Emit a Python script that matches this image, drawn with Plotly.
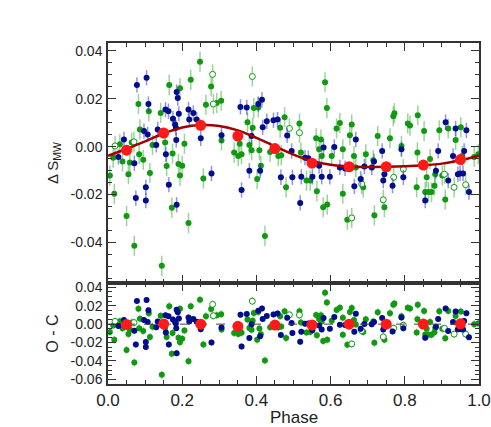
import numpy as np
import plotly.graph_objects as go

# Filled green points (phase, delta S)
green_phase = [0.005, 0.014, 0.017, 0.032, 0.039, 0.050, 0.055, 0.059, 0.064, 0.071,
               0.082, 0.084, 0.086, 0.095, 0.110, 0.113, 0.120, 0.142, 0.145, 0.154,
               0.158, 0.165, 0.172, 0.174, 0.190, 0.194, 0.194, 0.200, 0.206, 0.217,
               0.223, 0.248, 0.257, 0.264, 0.278, 0.293, 0.305, 0.306, 0.340, 0.351,
               0.355, 0.360, 0.376, 0.381, 0.387, 0.390, 0.393, 0.402, 0.405, 0.408,
               0.412, 0.423, 0.437, 0.459, 0.464, 0.467, 0.476, 0.480, 0.516, 0.520,
               0.535, 0.545, 0.561, 0.563, 0.569, 0.574, 0.576, 0.580, 0.585, 0.590,
               0.591, 0.603, 0.616, 0.625, 0.633, 0.633, 0.645, 0.652, 0.657, 0.663,
               0.668, 0.688, 0.695, 0.715, 0.718, 0.727, 0.745, 0.760, 0.769, 0.772,
               0.791, 0.808, 0.814, 0.832, 0.834, 0.835, 0.852, 0.855, 0.859, 0.864,
               0.868, 0.872, 0.880, 0.882, 0.893, 0.901, 0.909, 0.917, 0.937, 0.951,
               0.955, 0.987, 0.998]
green_val = [-0.0121, -0.0046, -0.0197, 0.0010, -0.0062, -0.0290, -0.0115, -0.0066, 0.0017, -0.0414,
             0.0178, -0.0032, 0.0072, -0.0055, 0.0148, -0.0110, 0.0007, 0.0141, -0.0498, 0.0017,
             -0.0081, 0.0258, -0.0255, -0.0029, -0.0073, -0.0121, 0.0244, -0.0080, 0.0012, -0.0319,
             0.0279, 0.0355, -0.0133, 0.0175, 0.0251, 0.0182, 0.0192, 0.0026, -0.0025, -0.0039,
             0.0012, -0.0032, 0.0102, 0.0007, -0.0015, 0.0079, 0.0161, -0.0135, 0.0164, -0.0015,
             -0.0080, -0.0373, -0.0022, -0.0039, 0.0079, -0.0036, 0.0123, -0.0170, 0.0097, -0.0025,
             -0.0142, -0.0142, 0.0035, -0.0186, -0.0011, 0.0030, -0.0039, -0.0253, 0.0269, 0.0161,
             -0.0242, -0.0039, 0.0076, 0.0099, -0.0011, -0.0197, -0.0305, 0.0048, 0.0092, -0.0039,
             -0.0087, -0.0170, -0.0032, -0.0057, -0.0287, 0.0044, -0.0253, 0.0035, 0.0127, 0.0140,
             0.0003, 0.0097, 0.0088, -0.0170, -0.0025, 0.0131, 0.0065, -0.0190, -0.0128, -0.0190,
             -0.0052, -0.0190, -0.0163, -0.0115, 0.0068, -0.0121, -0.0221, 0.0076, 0.0028, 0.0081,
             -0.0039, -0.0043, -0.0032]

# Filled blue points
blue_phase = [0.028, 0.043, 0.071, 0.075, 0.078, 0.097, 0.102, 0.102, 0.104, 0.107,
              0.109, 0.130, 0.134, 0.155, 0.156, 0.163, 0.164, 0.175, 0.181, 0.183,
              0.184, 0.185, 0.185, 0.188, 0.191, 0.217, 0.219, 0.230, 0.239, 0.250,
              0.279, 0.306, 0.357, 0.360, 0.374, 0.381, 0.387, 0.405, 0.410, 0.415,
              0.417, 0.428, 0.446, 0.457, 0.466, 0.483, 0.495, 0.497, 0.518, 0.521,
              0.531, 0.540, 0.551, 0.569, 0.576, 0.581, 0.598, 0.610, 0.625, 0.639,
              0.664, 0.668, 0.681, 0.691, 0.711, 0.717, 0.739, 0.742, 0.745, 0.767,
              0.791, 0.796, 0.855, 0.884, 0.890, 0.910, 0.917, 0.930, 0.937, 0.943,
              0.949, 0.957, 0.960, 0.966, 0.973]
blue_val = [-0.0043, 0.0030, -0.0069, -0.0215, 0.0258, 0.0065, -0.0170, -0.0225, 0.0288, 0.0051,
            0.0178, 0.0007, 0.0072, 0.0155, -0.0032, 0.0148, -0.0159, 0.0117, 0.0092, 0.0079,
            0.0028, 0.0228, -0.0243, 0.0203, 0.0137, 0.0155, 0.0113, 0.0141, 0.0113, 0.0035,
            -0.0112, 0.0048, 0.0166, -0.0181, 0.0164, -0.0101, 0.0044, 0.0178, -0.0101, 0.0196,
            0.0081, 0.0106, 0.0110, 0.0113, -0.0128, 0.0047, -0.0018, -0.0128, -0.0235, -0.0126,
            -0.0046, -0.0048, -0.0126, -0.0080, -0.0126, -0.0004, -0.0126, -0.0001, -0.0087, -0.0091,
            -0.0166, 0.0030, -0.0135, -0.0083, -0.0087, -0.0062, -0.0018, -0.0142, -0.0115, -0.0163,
            -0.0011, -0.0128, -0.0225, -0.0101, -0.0018, 0.0102, -0.0142, -0.0039, 0.0076, -0.0115,
            -0.0112, -0.0112, -0.0018, 0.0068, -0.0190]

# Open green circles
open_phase = [0.019, 0.070, 0.282, 0.284, 0.389, 0.489, 0.516, 0.657, 0.684, 0.742,
              0.770, 0.796, 0.907, 0.933, 0.964]
open_val = [0.0003, 0.0020, 0.0302, 0.0178, 0.0293, 0.0076, 0.0058, -0.0298, -0.0156, -0.0222,
            -0.0128, -0.0094, -0.0115, -0.0170, -0.0159]

# Model curve
model_phase = [0.00, 0.05, 0.10, 0.15, 0.20, 0.25, 0.30, 0.35, 0.40, 0.45, 0.50,
               0.55, 0.60, 0.65, 0.70, 0.75, 0.80, 0.85, 0.90, 0.95, 1.00]
model_val = [-0.0038, -0.0010, 0.0022, 0.0055, 0.0080, 0.0090, 0.0086, 0.0068, 0.0037, 0.0002, -0.0033,
             -0.0060, -0.0076, -0.0083, -0.0085, -0.0084, -0.0082, -0.0078, -0.0071, -0.0057, -0.0038]

# Binned means
bin_phase = [0.05, 0.15, 0.25, 0.35, 0.45, 0.55, 0.65, 0.75, 0.85, 0.95]
bin_val = [-0.0015, 0.0057, 0.0089, 0.0044, -0.0008, -0.0069, -0.0084, -0.0084, -0.0077, -0.0054]
bin_err = [0.0022, 0.0022, 0.0024, 0.0020, 0.0018, 0.0018, 0.0018, 0.0018, 0.0020, 0.0020]

green_err = 0.0042
blue_err = 0.0032


# O - C: observed minus the model curve
def resid(ph, val):
    return np.array(val) - np.interp(ph, model_phase, model_val)


GREEN = '#119911'
BLUE = '#000e8c'
GREEN_BAR = 'rgba(30,160,30,0.45)'
BLUE_BAR = 'rgba(40,40,200,0.5)'
RED = '#ff1a1a'
FONT = 'Liberation Sans, Arial, sans-serif'

fig = go.Figure()

for xa, ya, is_top in [('x', 'y', True), ('x2', 'y2', False)]:
    gy = green_val if is_top else resid(green_phase, green_val)
    by = blue_val if is_top else resid(blue_phase, blue_val)
    oy = open_val if is_top else resid(open_phase, open_val)
    ry = bin_val if is_top else resid(bin_phase, bin_val)

    fig.add_trace(go.Scatter(
        x=green_phase, y=gy, mode='markers', xaxis=xa, yaxis=ya,
        marker=dict(color=GREEN, size=6),
        error_y=dict(type='constant', value=green_err, color=GREEN_BAR, thickness=1.5, width=0)))
    fig.add_trace(go.Scatter(
        x=open_phase, y=oy, mode='markers', xaxis=xa, yaxis=ya,
        marker=dict(color='white', size=6, line=dict(color=GREEN, width=1)),
        error_y=dict(type='constant', value=green_err, color=GREEN_BAR, thickness=1.5, width=0)))
    fig.add_trace(go.Scatter(
        x=blue_phase, y=by, mode='markers', xaxis=xa, yaxis=ya,
        marker=dict(color=BLUE, size=6),
        error_y=dict(type='constant', value=blue_err, color=BLUE_BAR, thickness=1.5, width=0)))
    if is_top:
        fig.add_trace(go.Scatter(
            x=model_phase, y=model_val, mode='lines', xaxis=xa, yaxis=ya,
            line=dict(color='#a00000', width=2.5, shape='spline')))
    else:
        fig.add_trace(go.Scatter(
            x=[0, 1], y=[0, 0], mode='lines', xaxis=xa, yaxis=ya,
            line=dict(color='#444444', width=1, dash='dash')))
    fig.add_trace(go.Scatter(
        x=bin_phase, y=ry, mode='markers', xaxis=xa, yaxis=ya,
        marker=dict(color=RED, size=11),
        error_y=dict(type='data', array=bin_err, color='rgba(255,60,60,0.6)', thickness=1.5, width=0)))

axis_common = dict(
    showgrid=False, zeroline=False, showline=True, linecolor='#333333', linewidth=1.5,
    mirror='allticks', ticks='inside', ticklen=8, tickwidth=1, tickcolor='#333333',
    tickfont=dict(family=FONT, size=14, color='#222222'), automargin=False,
)
minor_x = dict(ticks='inside', dtick=0.05, ticklen=4, tickcolor='#333333')
minor_y = dict(ticks='inside', dtick=0.005, ticklen=4, tickcolor='#333333')

top_ticks = [-0.04, -0.02, 0.0, 0.02, 0.04]
bot_ticks = [-0.06, -0.04, -0.02, 0.0, 0.02, 0.04]
x_ticks = [0.0, 0.2, 0.4, 0.6, 0.8, 1.0]

fig.update_layout(
    width=491, height=427,
    margin=dict(l=108, r=12, t=43, b=43),
    paper_bgcolor='white', plot_bgcolor='white',
    showlegend=False,
    font=dict(family=FONT, color='#222222'),
    xaxis=dict(axis_common, range=[0, 1], anchor='y', showticklabels=False,
               tickvals=x_ticks, minor=minor_x),
    yaxis=dict(axis_common, range=[-0.057, 0.0433], domain=[0.296, 1],
               tickvals=top_ticks, ticktext=['%.2f' % v for v in top_ticks],
               ticklabelstandoff=1, minor=minor_y,
               title=dict(text='\u0394 S<sub>MW</sub>', font=dict(size=15), standoff=8)),
    xaxis2=dict(axis_common, range=[0, 1], anchor='y2', matches='x',
                tickvals=x_ticks, ticktext=['%.1f' % v for v in x_ticks],
                tickfont=dict(family=FONT, size=17, color='#222222'),
                ticklabelstandoff=0, minor=minor_x),
    yaxis2=dict(axis_common, range=[-0.065, 0.0446], domain=[0, 0.296],
                tickvals=bot_ticks, ticktext=['%.2f' % v for v in bot_ticks],
                ticklabelstandoff=1, minor=minor_y,
                title=dict(text='O - C', font=dict(size=16), standoff=8)),
)

# x-axis title as an annotation so it sits inside the page
fig.add_annotation(text='Phase', xref='paper', yref='paper', x=0.5, y=0,
                   xanchor='center', yanchor='top', yshift=-22, showarrow=False,
                   font=dict(family=FONT, size=17, color='#222222'))

# drop the default body margin so the figure lines up with the window
fig.write_html("out.html", config={'displayModeBar': False},
               post_script="document.body.style.margin='0';")
